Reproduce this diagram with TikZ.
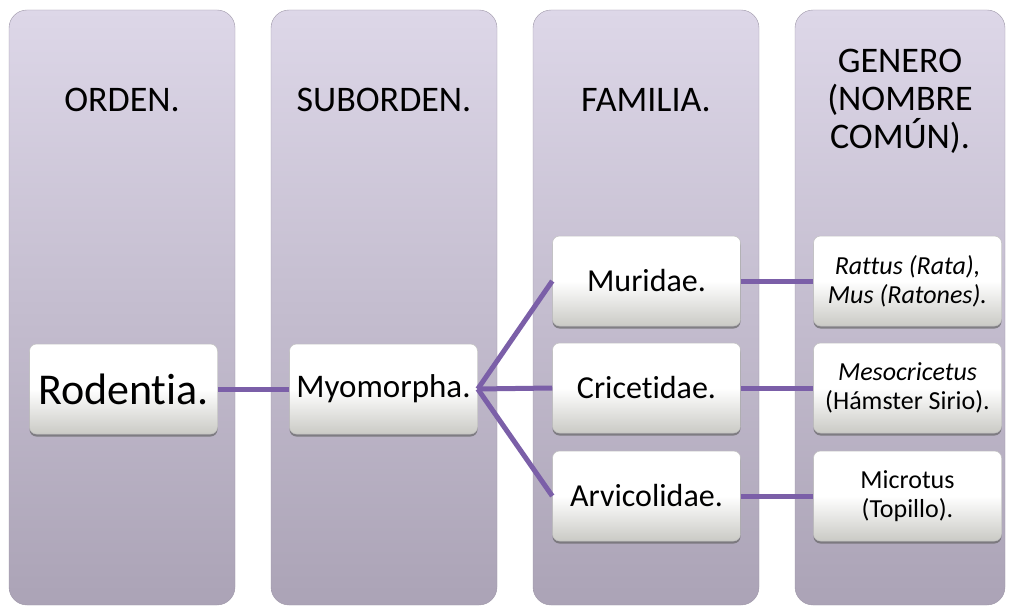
\documentclass[tikz,border=0pt]{standalone}
\usepackage{fontspec}
\setmainfont{Carlito}[Ligatures=NoCommon]
\usepackage{xcolor}
\usepackage{tikz}
\usetikzlibrary{shadows}
\definecolor{colTop}{HTML}{DDD7E8}
\definecolor{colBot}{HTML}{ABA3B6}
\definecolor{linkPurple}{HTML}{7B5FA8}
\definecolor{boxBot}{HTML}{CACAC5}
\begin{document}
\begin{tikzpicture}[
x=1pt,y=-1pt,
col/.style={rounded corners=18pt,top color=colTop,bottom color=colBot,draw=colBot!92!black,line width=.4pt,minimum width=226pt,minimum height=595pt,inner sep=0pt},
head/.style={align=center,font=\fontsize{36}{38}\selectfont},
item/.style={rounded corners=7pt,top color=white,bottom color=boxBot,middle color=white,draw=gray!50,line width=.5pt,minimum width=188pt,minimum height=90pt,align=center,inner sep=2pt,font=\fontsize{32}{34}\selectfont,drop shadow={shadow xshift=0pt,shadow yshift=-2.5pt,fill=black!60,opacity=.7}},
gen/.style={item,font=\fontsize{26}{29}\selectfont},
link/.style={draw=linkPurple,line width=5pt}
]
\useasboundingbox (0,0) rectangle (1011,607);
\node[col] (ordcol) at (122,307.5) {};
\node[col] (subcol) at (384,307.5) {};
\node[col] (famcol) at (646,307.5) {};
\node[col,minimum width=210pt] (gencol) at (900,307.5) {};
\node[head] (ordhd) at (122,100) {ORDEN.};
\node[head] (subhd) at (384,100) {SUBORDEN.};
\node[head] (famhd) at (646,100) {FAMILIA.};
\node[head] (genhd) at (900,101) {GENERO\\(NOMBRE\\COMÚN).};
\node[item,font=\fontsize{44}{46}\selectfont] (rod) at (123.5,389) {Rodentia.};
\node[item,font=\fontsize{33}{35}\selectfont] (myo) at (383.5,389) {Myomorpha.};
\node[item] (mur) at (646.5,281) {Muridae.};
\node[item] (cri) at (646.5,388) {Cricetidae.};
\node[item] (arv) at (646.5,496) {Arvicolidae.};
\node[gen,font=\fontsize{26}{29}\selectfont\itshape] (rat) at (907.5,281) {Rattus (Rata),\\Mus (Ratones).};
\node[gen] (mes) at (907.5,388) {\textit{Mesocricetus}\\(Hámster Sirio).};
\node[gen] (mic) at (907.5,496) {Microtus\\(Topillo).};
\draw[link] (rod.east) -- (myo.west);
\draw[link] (myo.east) -- (mur.west);
\draw[link] (myo.east) -- (cri.west);
\draw[link] (myo.east) -- (arv.west);
\draw[link] (mur.east) -- (rat.west);
\draw[link] (cri.east) -- (mes.west);
\draw[link] (arv.east) -- (mic.west);
\end{tikzpicture}
\end{document}
